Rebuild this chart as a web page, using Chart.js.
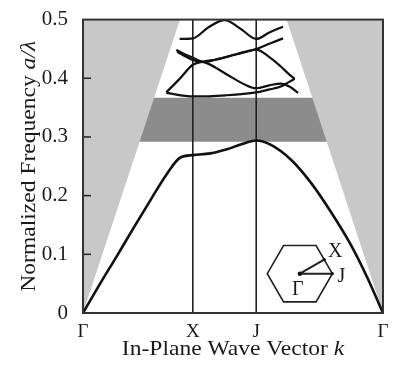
<!DOCTYPE html>
<html>
<head>
<meta charset="utf-8">
<script src="https://cdn.jsdelivr.net/npm/chart.js@4.4.1/dist/chart.umd.min.js"></script>
<style>
  html, body { margin: 0; padding: 0; background: #fff; }
  #wrap { width: 401px; height: 367px; position: relative; }
</style>
</head>
<body>
<div id="wrap"><canvas id="bands"></canvas></div>
<script>
// Symmetry points along the path Γ–X–J–Γ (k in units of 2π/a)
const symLabels = ['Γ', 'X', 'J', 'Γ'];
const symK = [0, 0.5774, 0.9107, 1.5774];
const freqTicks = [0, 0.1, 0.2, 0.3, 0.4, 0.5];

// Light-line edges (start of the light cone on each side)
const lightLeftK = [0, 0.51];
const lightLeftF = [0, 0.5];
const lightRightK = [1.0704, 1.5774];
const lightRightF = [0.5, 0];

// Photonic band gap limits
const gapLow = 0.292;
const gapHigh = 0.367;

// Guided bands
const band1K = [0, 0.09, 0.178, 0.266, 0.354, 0.441, 0.512, 0.5774, 0.67, 0.757, 0.828, 0.9107, 0.986, 1.091, 1.196, 1.302, 1.407, 1.494, 1.5774];
const band1F = [0, 0.050, 0.097, 0.145, 0.192, 0.237, 0.265, 0.269, 0.272, 0.279, 0.287, 0.294, 0.287, 0.262, 0.223, 0.173, 0.117, 0.061, 0];

const band2K = [0.438, 0.5774, 0.75, 0.9107, 0.98, 1.04, 1.08, 1.113];
const band2F = [0.375, 0.369, 0.371, 0.376, 0.381, 0.386, 0.393, 0.399];

const band3K = [0.438, 0.508, 0.5774, 0.64, 0.70, 0.807, 0.9107, 0.98, 1.04, 1.09, 1.113];
const band3F = [0.376, 0.399, 0.423, 0.429, 0.432, 0.441, 0.449, 0.436, 0.420, 0.405, 0.399];

const band4K = [0.49, 0.5774, 0.64, 0.70, 0.807, 0.9107, 0.98, 1.052];
const band4F = [0.448, 0.435, 0.428, 0.432, 0.441, 0.450, 0.459, 0.468];

const band5K = [0.495, 0.5774, 0.657, 0.754, 0.859, 0.9107, 0.98, 1.04, 1.09, 1.131];
const band5F = [0.445, 0.431, 0.425, 0.407, 0.388, 0.383, 0.388, 0.391, 0.385, 0.375];

const band6K = [0.508, 0.5774, 0.66, 0.745, 0.83, 0.9107, 0.98, 1.052];
const band6F = [0.467, 0.468, 0.487, 0.499, 0.484, 0.467, 0.478, 0.488];

// Brillouin-zone inset placement (data units)
const insetK = 1.14;
const insetF = 0.067;
const insetR = 0.171;

const pts = (ks, fs) => ks.map((k, i) => ({ x: k, y: fs[i] }));
const SERIF = "'Liberation Serif', 'Times New Roman', serif";
const INK = '#1a1a1a';

function bandSet(ks, fs, width) {
  return {
    data: pts(ks, fs),
    borderColor: '#111',
    borderWidth: width,
    pointRadius: 0,
    fill: false,
    cubicInterpolationMode: 'monotone',
    order: 0
  };
}

const datasets = [
  // band gap, clipped visually by the light cones drawn above it
  {
    data: [{ x: symK[0], y: gapLow }, { x: symK[3], y: gapLow }],
    borderWidth: 0, pointRadius: 0,
    backgroundColor: '#8c8c8c',
    fill: { value: gapHigh },
    order: 10
  },
  {
    data: pts(lightLeftK, lightLeftF),
    borderWidth: 0, pointRadius: 0,
    backgroundColor: '#c8c8c8',
    fill: 'end',
    order: 9
  },
  {
    data: pts(lightRightK, lightRightF),
    borderWidth: 0, pointRadius: 0,
    backgroundColor: '#c8c8c8',
    fill: 'end',
    order: 9
  },
  // vertical lines at X and J
  {
    data: [{ x: symK[1], y: 0 }, { x: symK[1], y: 0.5 }],
    borderColor: '#222', borderWidth: 1.6, pointRadius: 0, fill: false, order: 5
  },
  {
    data: [{ x: symK[2], y: 0 }, { x: symK[2], y: 0.5 }],
    borderColor: '#222', borderWidth: 1.6, pointRadius: 0, fill: false, order: 5
  },
  bandSet(band1K, band1F, 2.6),
  bandSet(band2K, band2F, 2.2),
  bandSet(band3K, band3F, 2.2),
  bandSet(band4K, band4F, 2.2),
  bandSet(band5K, band5F, 2.2),
  bandSet(band6K, band6F, 2.2)
];

// Draws a run of normal/italic text centred at (cx, baseline), slightly widened
function drawMixed(ctx, parts, cx, baseline, size, stretch) {
  let total = 0;
  parts.forEach(p => {
    ctx.font = (p.italic ? 'italic ' : '') + size + 'px ' + SERIF;
    p.w = ctx.measureText(p.t).width;
    total += p.w;
  });
  ctx.save();
  ctx.translate(cx, baseline);
  ctx.scale(stretch, 1);
  let xx = -total / 2;
  parts.forEach(p => {
    ctx.font = (p.italic ? 'italic ' : '') + size + 'px ' + SERIF;
    ctx.fillText(p.t, xx, 0);
    xx += p.w;
  });
  ctx.restore();
}

const decor = {
  id: 'decor',
  afterDatasetsDraw(chart) {
    const { ctx, chartArea: a, scales: { x, y } } = chart;
    ctx.save();

    // inward ticks on the frequency axis
    ctx.strokeStyle = '#222';
    ctx.lineWidth = 1.5;
    freqTicks.forEach(v => {
      if (v <= 0 || v >= 0.5) return;
      const py = y.getPixelForValue(v);
      ctx.beginPath();
      ctx.moveTo(a.left, py);
      ctx.lineTo(a.left + 8, py);
      ctx.stroke();
    });

    // frame
    ctx.lineWidth = 2;
    ctx.strokeStyle = '#333';
    ctx.strokeRect(a.left, a.top, a.right - a.left, a.bottom - a.top);

    // Brillouin-zone inset
    const cx = x.getPixelForValue(insetK);
    const cy = y.getPixelForValue(insetF);
    const r = x.getPixelForValue(insetK + insetR) - cx;
    ctx.strokeStyle = '#222';
    ctx.lineWidth = 1.6;
    ctx.beginPath();
    for (let i = 0; i <= 6; i++) {
      const t = i * Math.PI / 3;
      const px = cx + r * Math.cos(t), py = cy - r * Math.sin(t);
      if (i === 0) ctx.moveTo(px, py); else ctx.lineTo(px, py);
    }
    ctx.closePath();
    ctx.stroke();
    const jx = cx + r, jy = cy;
    const xm = cx + r * Math.sqrt(3) / 2 * Math.cos(Math.PI / 6);
    const ym = cy - r * Math.sqrt(3) / 2 * Math.sin(Math.PI / 6);
    ctx.lineWidth = 2;
    ctx.beginPath();
    ctx.moveTo(cx, cy); ctx.lineTo(jx, jy);
    ctx.moveTo(cx, cy); ctx.lineTo(xm, ym);
    ctx.stroke();
    ctx.fillStyle = '#111';
    ctx.beginPath(); ctx.arc(cx, cy, 2.2, 0, 2 * Math.PI); ctx.fill();
    [jx, xm].forEach((px, i) => {
      ctx.beginPath(); ctx.arc(px, i ? ym : jy, 1.6, 0, 2 * Math.PI); ctx.fill();
    });

    ctx.fillStyle = INK;
    ctx.textAlign = 'center';
    ctx.textBaseline = 'alphabetic';
    ctx.font = '20px ' + SERIF;
    ctx.fillText('X', xm + 11, ym - 3);
    ctx.fillText('J', jx + 9, jy + 8);
    ctx.fillText('Γ', cx - 2, cy + 21);

    // axis titles
    ctx.textAlign = 'left';
    drawMixed(ctx, [{ t: 'In-Plane Wave Vector ' }, { t: 'k', italic: true }],
      (a.left + a.right) / 2, a.bottom + 42, 22, 1.07);
    ctx.save();
    ctx.translate(a.left - 48, (a.top + a.bottom) / 2);
    ctx.rotate(-Math.PI / 2);
    drawMixed(ctx, [{ t: 'Normalized Frequency ' }, { t: 'a/λ', italic: true }], 0, 0, 22, 1.07);
    ctx.restore();

    ctx.restore();
  }
};

new Chart(document.getElementById('bands'), {
  type: 'line',
  data: { datasets },
  options: {
    responsive: true,
    maintainAspectRatio: false,
    animation: false,
    events: [],
    layout: { padding: { left: 0, top: 15, right: 18, bottom: 0 } },
    plugins: { legend: { display: false }, tooltip: { enabled: false } },
    scales: {
      x: {
        type: 'linear',
        min: symK[0], max: symK[3],
        grid: { display: false },
        border: { display: false },
        afterBuildTicks: s => { s.ticks = symK.map(v => ({ value: v })); },
        afterFit: s => { s.height = 54; },
        ticks: {
          autoSkip: false, maxRotation: 0, padding: 0,
          color: INK,
          font: { family: SERIF, size: 19 },
          callback: (v, i) => symLabels[i]
        }
      },
      y: {
        type: 'linear',
        min: 0, max: 0.5,
        grid: { display: false },
        border: { display: false },
        afterBuildTicks: s => { s.ticks = freqTicks.map(v => ({ value: v })); },
        afterFit: s => { s.width = 83; },
        ticks: {
          padding: 7,
          color: INK,
          font: { family: SERIF, size: 21 },
          callback: v => (v === 0 ? '0' : v.toFixed(1))
        }
      }
    }
  },
  plugins: [decor]
});
</script>
</body>
</html>
